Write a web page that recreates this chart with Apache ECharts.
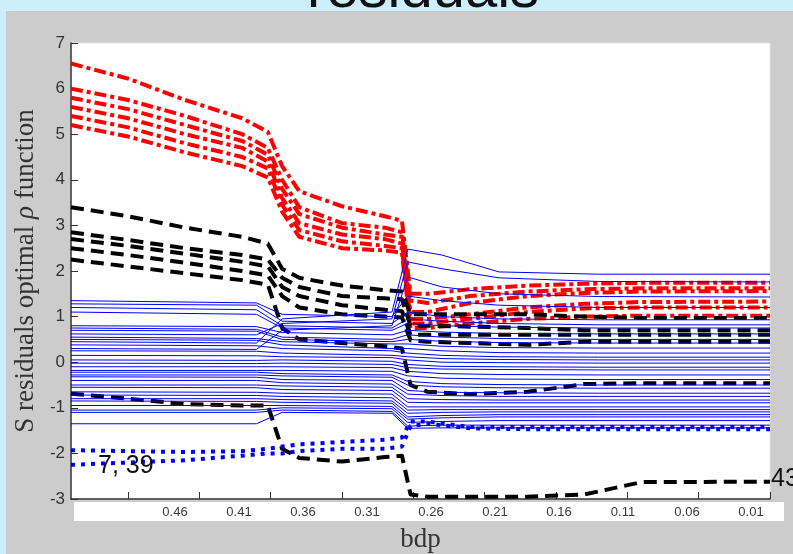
<!DOCTYPE html>
<html><head><meta charset="utf-8">
<script src="https://cdn.jsdelivr.net/npm/echarts@6/dist/echarts.min.js"></script>
<style>
html,body{margin:0;padding:0;background:#cdeefb;overflow:hidden;}
#panel{position:absolute;left:6px;top:11px;width:787px;height:543px;background:#cccccc;}
#c{position:absolute;left:0;top:0;width:793px;height:554px;}
</style>
</head><body><div id="panel"></div><div id="c"></div>
<script>
// ---- x ticks / labels ----
const tickVals = [0.46, 0.41, 0.36, 0.31, 0.26, 0.21, 0.16, 0.11, 0.06, 0.01];
const tickLabels = ['0.46', '0.41', '0.36', '0.31', '0.26', '0.21', '0.16', '0.11', '0.06', '0.01'];

// ---- thick lines (red dash-dot, black dashed, blue dotted) sampled at thickX ----
const thickX = [0.50, 0.46, 0.42, 0.38, 0.362, 0.352, 0.34, 0.31, 0.28, 0.268, 0.262, 0.25, 0.22, 0.18, 0.14, 0.10, 0.01];
const red1 = [6.55, 6.22, 5.75, 5.35, 5.05, 4.30, 3.75, 3.42, 3.20, 3.10, 1.50, 1.50, 1.60, 1.68, 1.72, 1.74, 1.74];
const red2 = [6.00, 5.75, 5.40, 5.00, 4.70, 4.00, 3.40, 3.05, 2.95, 2.85, 1.35, 1.30, 1.45, 1.55, 1.60, 1.62, 1.62];
const red3 = [5.80, 5.55, 5.20, 4.85, 4.55, 3.80, 3.25, 2.95, 2.80, 2.75, 1.10, 1.10, 1.30, 1.45, 1.52, 1.55, 1.56];
const red4 = [5.60, 5.35, 5.00, 4.70, 4.40, 3.60, 3.05, 2.80, 2.70, 2.60, 0.95, 0.95, 1.05, 1.20, 1.28, 1.32, 1.33];
const red5 = [5.40, 5.15, 4.80, 4.50, 4.25, 3.45, 2.90, 2.65, 2.55, 2.50, 0.85, 0.85, 0.95, 1.10, 1.18, 1.20, 1.20];
const red6 = [5.20, 4.95, 4.60, 4.30, 4.05, 3.30, 2.75, 2.50, 2.45, 2.40, 0.75, 0.75, 0.85, 0.95, 1.00, 1.02, 1.02];

const blk1 = [3.40, 3.20, 2.95, 2.75, 2.60, 2.05, 1.85, 1.68, 1.58, 1.55, 1.05, 1.05, 1.05, 1.05, 1.00, 0.97, 0.97];
const blk2 = [2.85, 2.68, 2.50, 2.35, 2.25, 1.85, 1.65, 1.45, 1.40, 1.38, 0.80, 0.80, 0.78, 0.75, 0.70, 0.70, 0.70];
const blk3 = [2.70, 2.55, 2.38, 2.20, 2.10, 1.65, 1.45, 1.25, 1.15, 1.12, 0.60, 0.60, 0.60, 0.60, 0.60, 0.60, 0.60];
const blk4 = [2.50, 2.35, 2.18, 2.00, 1.90, 1.45, 1.20, 1.05, 1.00, 0.98, 0.48, 0.45, 0.42, 0.38, 0.45, 0.45, 0.45];
const blk5 = [2.25, 2.10, 1.95, 1.80, 1.70, 0.75, 0.50, 0.42, 0.35, 0.30, -0.50, -0.65, -0.70, -0.65, -0.48, -0.46, -0.46];
const blk43 = [-0.69, -0.80, -0.92, -0.95, -0.95, -1.90, -2.10, -2.18, -2.08, -2.05, -2.90, -2.95, -2.95, -2.95, -2.90, -2.63, -2.62];

const dot1 = [-1.93, -1.95, -1.97, -1.95, -1.90, -1.85, -1.80, -1.75, -1.70, -1.65, -1.30, -1.30, -1.42, -1.42, -1.42, -1.42, -1.42];
const dot2 = [-2.25, -2.20, -2.15, -2.05, -2.00, -2.00, -1.95, -1.90, -1.90, -1.85, -1.40, -1.35, -1.45, -1.47, -1.47, -1.47, -1.47];

// ---- thin blue lines sampled at blueX ----
const blueX = [0.50, 0.37, 0.352, 0.275, 0.264, 0.24, 0.20, 0.13, 0.01];
const b01 = [0.45, 0.42, 0.95, 1.10, 2.48, 2.35, 1.98, 1.93, 1.93];
const b02 = [0.62, 0.60, 0.85, 0.95, 2.20, 2.05, 1.85, 1.77, 1.76];
const b03 = [0.30, 0.28, 0.70, 0.80, 1.87, 1.65, 1.50, 1.44, 1.43];
const b04 = [1.35, 1.30, 1.05, 1.00, 1.45, 1.35, 1.25, 1.20, 1.20];
const b05 = [1.28, 1.25, 0.90, 0.85, 1.10, 1.00, 0.95, 0.93, 0.93];
const b06 = [1.20, 1.15, 0.80, 0.75, 0.95, 0.90, 0.85, 0.82, 0.82];
const b07 = [1.10, 1.05, 0.75, 0.70, 0.85, 0.80, 0.77, 0.75, 0.75];
const b08 = [0.80, 0.78, 0.65, 0.60, 0.70, 0.66, 0.63, 0.62, 0.62];
const b09 = [0.75, 0.72, 0.55, 0.50, 0.60, 0.55, 0.52, 0.50, 0.50];
const b10 = [0.70, 0.68, 0.50, 0.45, 0.50, 0.46, 0.43, 0.42, 0.42];
const b11 = [0.55, 0.52, 0.45, 0.40, 0.40, 0.35, 0.32, 0.31, 0.31];
const b12 = [0.50, 0.48, 0.38, 0.30, 0.30, 0.25, 0.21, 0.20, 0.20];
const b13 = [0.38, 0.36, 0.30, 0.25, 0.20, 0.15, 0.12, 0.11, 0.11];
const b14 = [0.25, 0.24, 0.20, 0.15, 0.12, 0.08, 0.06, 0.05, 0.05];
const b15 = [0.15, 0.14, 0.12, 0.10, 0.05, 0.00, -0.01, -0.02, -0.02];
const b16 = [0.05, 0.04, 0.05, 0.02, -0.05, -0.09, -0.10, -0.11, -0.11];
const b17 = [-0.02, -0.03, -0.02, -0.05, -0.12, -0.15, -0.16, -0.17, -0.17];
const b18 = [-0.10, -0.10, -0.10, -0.12, -0.20, -0.25, -0.27, -0.28, -0.28];
const b19 = [-0.18, -0.18, -0.18, -0.20, -0.30, -0.35, -0.37, -0.38, -0.38];
const b20 = [-0.22, -0.22, -0.25, -0.28, -0.42, -0.47, -0.49, -0.50, -0.50];
const b21 = [-0.28, -0.28, -0.30, -0.33, -0.50, -0.54, -0.56, -0.57, -0.57];
const b22 = [-0.32, -0.33, -0.38, -0.40, -0.62, -0.66, -0.67, -0.68, -0.68];
const b23 = [-0.40, -0.40, -0.45, -0.48, -0.70, -0.73, -0.75, -0.75, -0.75];
const b24 = [-0.50, -0.50, -0.52, -0.55, -0.80, -0.82, -0.83, -0.83, -0.83];
const b25 = [-0.55, -0.56, -0.60, -0.62, -0.88, -0.89, -0.89, -0.89, -0.89];
const b26 = [-0.65, -0.66, -0.68, -0.70, -0.98, -0.98, -0.98, -0.98, -0.98];
const b27 = [-0.72, -0.73, -0.75, -0.78, -1.05, -1.04, -1.04, -1.04, -1.04];
const b28 = [-0.80, -0.80, -0.82, -0.85, -1.12, -1.10, -1.09, -1.09, -1.09];
const b29 = [-0.85, -0.86, -0.88, -0.90, -1.20, -1.17, -1.15, -1.15, -1.15];
const b30 = [-0.95, -0.95, -0.95, -0.97, -1.25, -1.22, -1.20, -1.20, -1.20];
const b31 = [-1.05, -1.05, -1.00, -1.02, -1.32, -1.30, -1.28, -1.28, -1.28];
const b32 = [-1.10, -1.10, -1.05, -1.08, -1.40, -1.38, -1.38, -1.38, -1.38];
const b33 = [-1.35, -1.35, -1.10, -1.12, -1.45, -1.44, -1.44, -1.44, -1.44];

const reds = [red1, red2, red3, red4, red5, red6];
const blacks = [blk1, blk2, blk3, blk4, blk5, blk43];
const dots = [dot1, dot2];
const blues = [b01,b02,b03,b04,b05,b06,b07,b08,b09,b10,b11,b12,b13,b14,b15,b16,b17,b18,b19,b20,b21,b22,b23,b24,b25,b26,b27,b28,b29,b30,b31,b32,b33];

function mk(xs, ys, color, width, type, z) {
  return {
    type: 'line', xAxisIndex: 0, yAxisIndex: 0, showSymbol: false, symbol: 'none',
    silent: true, animation: false, z: z,
    data: xs.map((x, i) => [x, ys[i]]),
    lineStyle: { color: color, width: width, type: type, cap: 'butt', join: 'round' }
  };
}

const series = [];
reds.forEach(r => series.push(mk(thickX, r, '#ff0000', 4, [12, 4, 4, 4], 2)));
blacks.forEach(b => series.push(mk(thickX, b, '#000000', 4, [13, 7], 2)));
blues.forEach(b => series.push(mk(blueX, b, '#0000ff', 1, 'solid', 3)));
dots.forEach(d => series.push(mk(thickX, d, '#0000ff', 4, [4, 6], 4)));

const chart = echarts.init(document.getElementById('c'), null, { renderer: 'canvas' });
chart.setOption({
  backgroundColor: 'transparent',
  animation: false,
  grid: [
    { left: 71, top: 43, width: 699, height: 456, outerBoundsMode: 'none', containLabel: false,
      show: true, backgroundColor: '#ffffff', borderColor: '#e4e4e4', borderWidth: 1 },
    { left: 74, top: 502, width: 710, height: 19, outerBoundsMode: 'none', containLabel: false,
      show: true, backgroundColor: '#ffffff', borderWidth: 0 }
  ],
  xAxis: [
    {
      type: 'value', gridIndex: 0, inverse: true, min: 0.01, max: 0.5,
      axisLine: { show: true, onZero: false, lineStyle: { color: '#333', width: 1.5 } },
      axisTick: { show: true, inside: true, length: 7, customValues: tickVals, lineStyle: { color: '#333', width: 1 } },
      axisLabel: { show: false },
      splitLine: { show: false },
      name: 'bdp', nameLocation: 'middle', nameGap: 27,
      nameTextStyle: { fontFamily: 'Liberation Serif', fontSize: 27, color: '#333' }
    },
    {
      type: 'value', gridIndex: 1, inverse: true, min: -0.0158, max: 0.5389, position: 'top',
      axisLine: { show: false }, axisTick: { show: false }, splitLine: { show: false },
      axisLabel: {
        inside: true, margin: 4, customValues: tickVals,
        formatter: v => tickLabels[tickVals.findIndex(t => Math.abs(t - v) < 1e-6)] || '',
        fontSize: 13, fontFamily: 'Arial', color: '#3a3a3a'
      }
    }
  ],
  yAxis: [
    {
      type: 'value', gridIndex: 0, min: -3, max: 7, interval: 1,
      axisLine: { show: true, onZero: false, lineStyle: { color: '#333', width: 1.5 } },
      axisTick: { show: true, inside: true, length: 7, lineStyle: { color: '#333', width: 1 } },
      axisLabel: { fontSize: 17, fontFamily: 'Arial', color: '#333', margin: 6 },
      splitLine: { show: false },
      name: 'S residuals optimal {i|ρ} function', nameLocation: 'middle', nameGap: 30, nameRotate: 90,
      nameTextStyle: { fontFamily: 'Liberation Serif', fontSize: 27, color: '#333',
        rich: { i: { fontFamily: 'Liberation Serif', fontStyle: 'italic', fontSize: 27, color: '#333' } } }
    },
    { type: 'value', gridIndex: 1, show: false, min: 0, max: 1 }
  ],
  graphic: [
    { type: 'text', x: 423, y: 20, silent: true,
      style: { text: 'residuals', font: '58px Arial', fill: '#111', align: 'center', verticalAlign: 'bottom' } },
    { type: 'text', x: 98, y: 466, silent: true, z: 10,
      style: { text: '7, 39', font: '25px Arial', fill: '#111', align: 'left', verticalAlign: 'middle' } },
    { type: 'text', x: 771, y: 479, silent: true, z: 10,
      style: { text: '43', font: '25px Arial', fill: '#111', align: 'left', verticalAlign: 'middle' } }
  ],
  series: series
});
</script>
</body></html>
